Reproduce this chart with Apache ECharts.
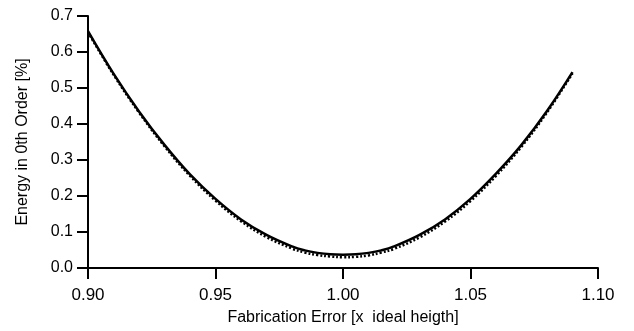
<!DOCTYPE html>
<html>
<head>
<meta charset="utf-8">
<script src="https://cdn.jsdelivr.net/npm/echarts@6/dist/echarts.min.js"></script>
<style>html,body{margin:0;padding:0;background:#fff;}#c{width:634px;height:331px;}</style>
</head>
<body>
<div id="c"></div>
<script>
var xValues = [0.90,0.91,0.92,0.93,0.94,0.95,0.96,0.97,0.98,0.985,0.99,0.995,1.00,1.005,1.01,1.015,1.02,1.03,1.04,1.05,1.06,1.07,1.08,1.09];
var solidValues = [0.658,0.540,0.435,0.342,0.260,0.192,0.135,0.092,0.060,0.049,0.042,0.038,0.037,0.038,0.042,0.049,0.060,0.092,0.135,0.192,0.262,0.342,0.436,0.544];
var dottedValues = [0.655,0.537,0.432,0.338,0.256,0.187,0.130,0.086,0.054,0.043,0.036,0.032,0.030,0.031,0.035,0.043,0.053,0.085,0.129,0.186,0.256,0.337,0.432,0.541];
var xTicks = ["0.90","0.95","1.00","1.05","1.10"];
var yTicks = ["0.0","0.1","0.2","0.3","0.4","0.5","0.6","0.7"];

function pairs(xs, ys){ return xs.map(function(x,i){ return [x, ys[i]]; }); }

var chart = echarts.init(document.getElementById('c'), null, {renderer:'canvas'});
var font = 'Liberation Sans, Arial, sans-serif';
chart.setOption({
  animation: false,
  backgroundColor: '#fff',
  grid: {left: 88, right: 36, top: 16, bottom: 61},
  xAxis: {
    type: 'value', min: 0.9, max: 1.1, interval: 0.05,
    offset: 1,
    name: 'Fabrication Error [x  ideal heigth]',
    nameLocation: 'middle', nameGap: 41,
    nameTextStyle: {color: '#000', fontSize: 16, fontFamily: font},
    axisLine: {show: true, lineStyle: {color: '#000', width: 2}},
    axisTick: {show: true, inside: false, length: 11, lineStyle: {color: '#000', width: 2}},
    axisLabel: {color: '#000', fontSize: 17, fontFamily: font, margin: 18,
      formatter: function(v){ var i = Math.round((v-0.9)/0.05); return xTicks[i]; }},
    splitLine: {show: false}
  },
  yAxis: {
    type: 'value', min: 0, max: 0.7, interval: 0.1,
    name: 'Energy in 0th Order [%]',
    nameLocation: 'middle', nameGap: 57, nameRotate: 90,
    nameTextStyle: {color: '#000', fontSize: 16, fontFamily: font},
    axisLine: {show: true, lineStyle: {color: '#000', width: 2}},
    axisTick: {show: true, length: 11, lineStyle: {color: '#000', width: 2}},
    axisLabel: {color: '#000', fontSize: 16, fontFamily: font, margin: 15,
      formatter: function(v){ var i = Math.round(v/0.1); return yTicks[i]; }},
    splitLine: {show: false}
  },
  series: [
    {type: 'line', data: pairs(xValues, dottedValues), smooth: 0.4, symbol: 'none',
     lineStyle: {color: '#000', width: 2.5, type: [2, 2]}},
    {type: 'line', data: pairs(xValues, solidValues), smooth: 0.4, symbol: 'none',
     lineStyle: {color: '#000', width: 2.5}}
  ]
});
</script>
</body>
</html>
